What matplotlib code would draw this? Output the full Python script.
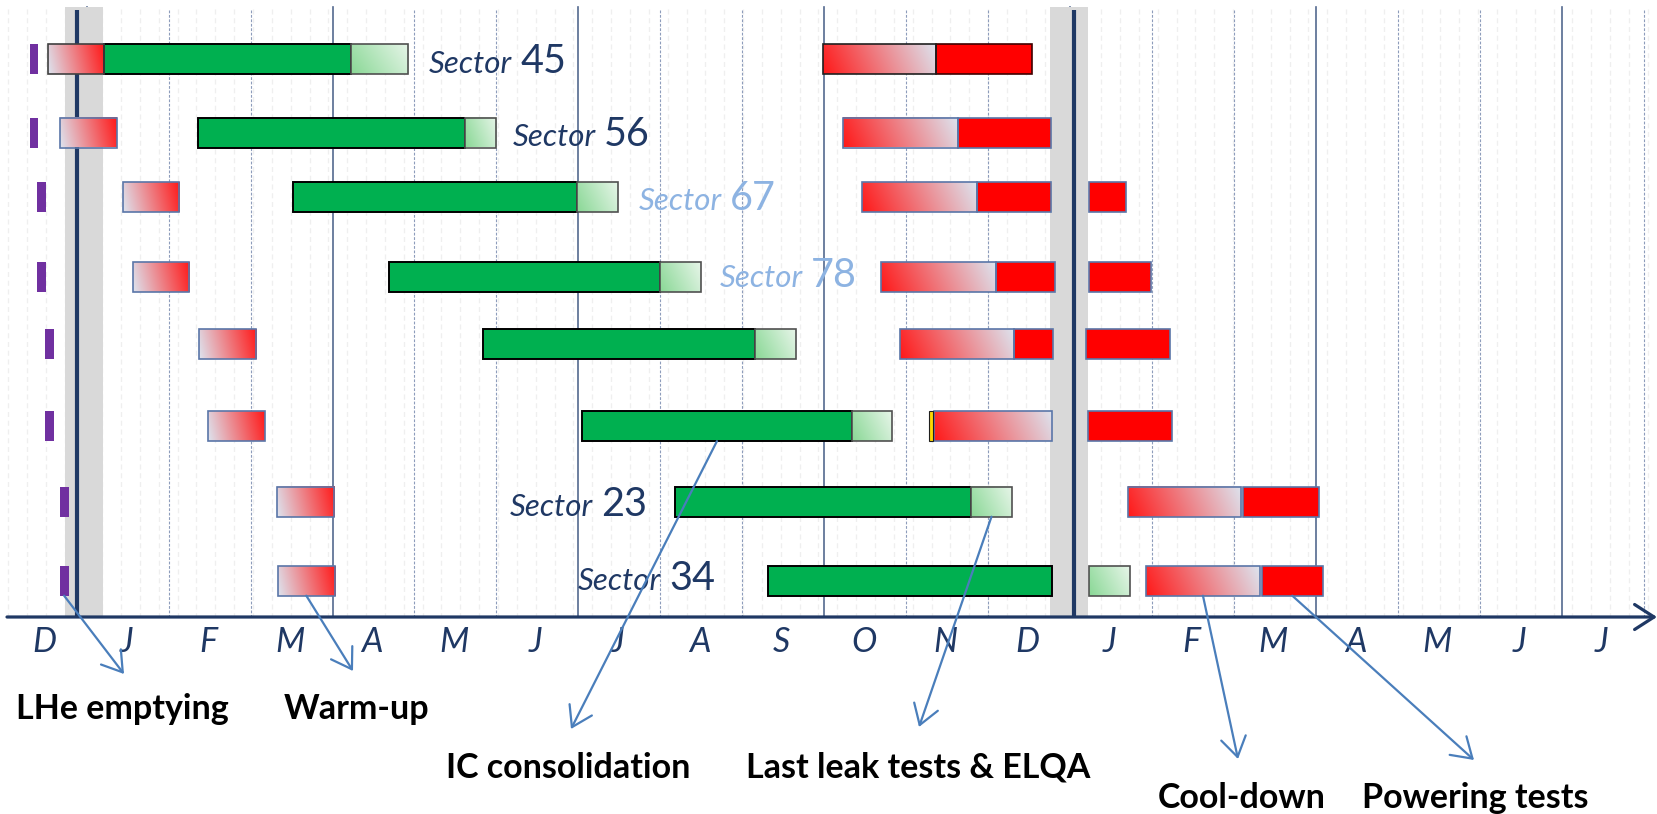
import numpy as np
import matplotlib
matplotlib.use('Agg')
import matplotlib.pyplot as plt
from matplotlib.patches import Rectangle
from matplotlib.colors import to_rgb

# ---------------- data (months counted from the start of December) ----------------
month_labels = ['D', 'J', 'F', 'M', 'A', 'M', 'J', 'J', 'A', 'S', 'O', 'N',
                'D', 'J', 'F', 'M', 'A', 'M', 'J', 'J']
sector_numbers = ['45', '56', '67', '78', '', '', '23', '34']

lhe_start = [0.31, 0.31, 0.40, 0.40, 0.49, 0.49, 0.67, 0.67]
lhe_end = [0.41, 0.41, 0.50, 0.50, 0.60, 0.60, 0.78, 0.78]
warm_start = [0.53, 0.68, 1.44, 1.56, 2.37, 2.48, 3.32, 3.33]
warm_end = [1.21, 1.37, 2.13, 2.25, 3.07, 3.17, 4.02, 4.03]
ic_start = [1.21, 2.36, 3.52, 4.69, 5.84, 7.04, 8.18, 9.31]
ic_end = [4.22, 5.62, 6.98, 7.99, 9.16, 10.34, 11.79, 12.78]
leak_start = [4.22, 5.62, 6.98, 7.99, 9.16, 10.34, 11.79, 13.23]
leak_end = [4.92, 6.00, 7.48, 8.49, 9.66, 10.82, 12.29, 13.73]
cool_start = [9.98, 10.23, 10.46, 10.69, 10.92, 11.34, 13.70, 13.93]
cool_end = [11.36, 11.63, 11.86, 12.09, 12.32, 12.78, 15.08, 15.31]
power_start = [11.36, 11.63, 11.86, 12.09, 12.32, None, 15.11, 15.34]
power_end = [12.54, 12.77, 12.76, 12.81, 12.79, None, 16.04, 16.08]
power2_start = [None, None, 13.23, 13.23, 13.19, 13.22, None, None]
power2_end = [None, None, 13.68, 13.98, 14.22, 14.24, None, None]
marker_start = [None, None, None, None, None, 11.28, None, None]
marker_end = [None, None, None, None, None, 11.33, None, None]

shutdown_start = [0.74, 12.75]
shutdown_end = [1.20, 13.22]
milestone = [0.88, 13.05]

phase_labels = ['LHe emptying', 'Warm-up', 'IC consolidation',
                'Last leak tests & ELQA', 'Cool-down', 'Powering tests']

# ---------------- layout ----------------
W, H = 1658, 814
X0, PXM = 4.7, 81.96          # pixel of month 0 and pixels per month


def xm(px):
    return (px - X0) / PXM


fig = plt.figure(figsize=(W / 100, H / 100), dpi=100)
ax = fig.add_axes([0, 0, 1, 1])
ax.set_xlim(xm(0), xm(W))
ax.set_ylim(H, 0)
ax.axis('off')

NAVY = '#1f3864'
LIGHTBLUE = '#8db3e2'
BAR_H = 30
row_y = [58.7, 132.5, 196.7, 276.7, 344.3, 426.2, 501.7, 580.7]
AXIS_Y = 617
FONT = 'Lato'

# faint weekly lines
for x in np.arange(xm(8), 20.2, 7 / 30.44):
    ax.plot([x, x], [9, AXIS_Y], color='#efefef', lw=0.9, ls=(0, (4, 3)), zorder=0)
# monthly / quarterly lines
for m in range(1, 21):
    if m % 3 == 1:
        ax.plot([m, m], [7, AXIS_Y], color='#54698f', lw=1.2, zorder=0.5)
    else:
        ax.plot([m, m], [10, AXIS_Y], color='#8d9cbb', lw=0.8, ls=(0, (2.5, 1.5)), zorder=0.5)

# shutdown bands + milestone lines
for s, e, ms in zip(shutdown_start, shutdown_end, milestone):
    ax.add_patch(Rectangle((s, 7), e - s, AXIS_Y + 1 - 7, fc='#d9d9d9', ec='none', zorder=1))
    ax.plot([ms, ms], [10, AXIS_Y], color=NAVY, lw=3.0, zorder=1.5, solid_capstyle='butt')


def grad_box(x0, x1, yc, c_from, c_to, kind, edge, z=3):
    nx, ny = 60, 16
    u = np.linspace(0, 1, nx)[None, :]
    v = np.linspace(0, 1, ny)[:, None]
    if kind == 'diag':
        t = np.clip(0.75 * u + 0.25 * (1 - v), 0, 1)
    else:
        t = np.clip(0.9 * u + 0.1 * (1 - v), 0, 1) * np.ones_like(v)
    a = np.array(to_rgb(c_from))
    b = np.array(to_rgb(c_to))
    arr = (1 - t)[..., None] * a + t[..., None] * b
    ax.imshow(arr, extent=(x0, x1, yc + BAR_H / 2, yc - BAR_H / 2), aspect='auto',
              interpolation='bilinear', zorder=z)
    ax.add_patch(Rectangle((x0, yc - BAR_H / 2), x1 - x0, BAR_H, fill=False, ec=edge,
                           lw=1.2, zorder=z + 0.1))


def solid_box(x0, x1, yc, fc, ec, lw=1.2, z=3):
    ax.add_patch(Rectangle((x0, yc - BAR_H / 2), x1 - x0, BAR_H, fc=fc, ec=ec, lw=lw, zorder=z))


LIGHT = '#dde3ee'
RED = '#ff1a1a'
for i, y in enumerate(row_y):
    solid_box(lhe_start[i], lhe_end[i], y, '#7030a0', 'none', 0)
    grad_box(warm_start[i], warm_end[i], y, LIGHT, RED, 'h',
             '#404040' if i == 0 else '#5a76a8')
    solid_box(ic_start[i], ic_end[i], y, '#00b050', 'black', 1.4)
    grad_box(leak_start[i], leak_end[i], y, '#8ad896', '#e6f5e8', 'diag', '#505050')
    if marker_start[i] is not None:
        solid_box(marker_start[i], marker_end[i], y, '#ffd700', '#1f1f1f', 0.8, z=3.5)
    grad_box(cool_start[i], cool_end[i], y, RED, LIGHT, 'h',
             '#202020' if i == 0 else '#5a76a8')
    if power_start[i] is not None:
        solid_box(power_start[i], power_end[i], y, '#ff0000',
                  '#400000' if i == 0 else '#5a76a8', 1.2)
    if power2_start[i] is not None:
        solid_box(power2_start[i], power2_end[i], y, '#ff0000', '#5a76a8', 1.2)

# time axis with arrow
ax.annotate('', xy=(xm(1657), AXIS_Y), xytext=(xm(7), AXIS_Y),
            arrowprops=dict(arrowstyle='->, head_length=0.7, head_width=0.45',
                            mutation_scale=20, lw=2.3, color=NAVY, shrinkA=0, shrinkB=0),
            zorder=5)

for i, lab in enumerate(month_labels):
    ax.text(i + 0.48, 642, lab, ha='center', va='center', fontsize=24.5,
            style='italic', color=NAVY, family=FONT, zorder=6)

# sector labels
sec_x_px = [429, 513, 639, 720, None, None, 510, 578]
sec_base = [73, 146.5, 210, 287, None, None, 516, 589.5]
fig.canvas.draw()
renderer = fig.canvas.get_renderer()
for i, num in enumerate(sector_numbers):
    if not num:
        continue
    col = LIGHTBLUE if i in (2, 3) else NAVY
    t1 = ax.text(xm(sec_x_px[i]), sec_base[i], 'Sector', ha='left', va='baseline',
                 fontsize=22.5, style='italic', color=col, family=FONT, zorder=2)
    bb = t1.get_window_extent(renderer)
    ax.text(xm(bb.x1 + 8), sec_base[i], num, ha='left', va='baseline',
            fontsize=28.5, color=col, family=FONT, zorder=2)

# phase labels and arrows
lab_x_px = [16, 284, 446, 746, 1158, 1362]
lab_base = [719, 719, 778, 778, 808, 808]
arrow_end_px = [(124, 674), (353, 671), (571, 729), (919, 727), (1238, 759), (1474, 760)]
arrow_src = [
    ((lhe_start[7] + lhe_end[7]) / 2, row_y[7] + BAR_H / 2),
    ((warm_start[7] + warm_end[7]) / 2, row_y[7] + BAR_H / 2),
    ((ic_start[5] + ic_end[5]) / 2, row_y[5] + BAR_H / 2),
    ((leak_start[6] + leak_end[6]) / 2, row_y[6] + BAR_H / 2),
    ((cool_start[7] + cool_end[7]) / 2, row_y[7] + BAR_H / 2),
    ((power_start[7] + power_end[7]) / 2, row_y[7] + BAR_H / 2),
]
for lab, lx, lb, (ex, ey), src in zip(phase_labels, lab_x_px, lab_base, arrow_end_px, arrow_src):
    ax.text(xm(lx), lb, lab, ha='left', va='baseline', fontsize=24.5, fontweight='bold',
            color='black', family=FONT, zorder=6)
    ax.annotate('', xy=(xm(ex), ey), xytext=src,
                arrowprops=dict(arrowstyle='->, head_length=0.7, head_width=0.45',
                                mutation_scale=20, lw=1.6, color='#4a7ebb',
                                shrinkA=0, shrinkB=0), zorder=7)

fig.savefig('out.png', dpi=100)
